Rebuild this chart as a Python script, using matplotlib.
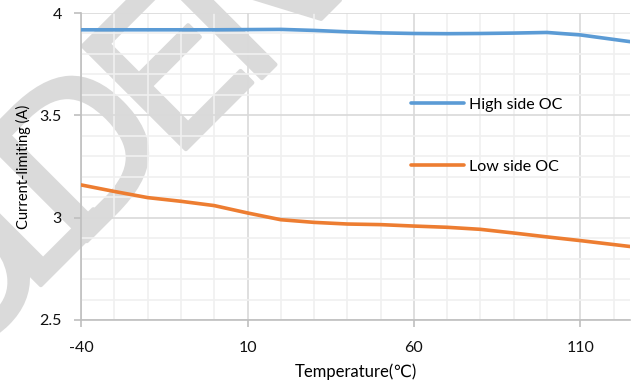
import numpy as np
import matplotlib.pyplot as plt
import matplotlib.patheffects as pe
from matplotlib.ticker import MultipleLocator

plt.rcParams['font.family'] = ['Lato', 'DejaVu Sans']
plt.rcParams['axes.unicode_minus'] = False

# Temperature sweep and measured current limit
temp = [-40, -30, -20, -10, 0, 10, 20, 30, 40, 50, 60, 70, 80, 90, 100, 110, 125]
high_side = [3.918, 3.918, 3.918, 3.918, 3.918, 3.919, 3.920, 3.915, 3.908, 3.903,
             3.900, 3.899, 3.900, 3.902, 3.905, 3.893, 3.860]
low_side = [3.160, 3.128, 3.098, 3.080, 3.059, 3.023, 2.990, 2.977, 2.969, 2.966,
            2.959, 2.953, 2.943, 2.925, 2.906, 2.888, 2.859]

x_ticks = [-40, 10, 60, 110]
y_ticks = [2.5, 3, 3.5, 4]
y_ticklabels = ['2.5', '3', '3.5', '4']

W, H = 634, 383
fig = plt.figure(figsize=(W / 100, H / 100), dpi=100)
ax = fig.add_axes([0.128, 0.1645, 0.866, 0.8015])
ax.patch.set_alpha(0)

# diagonal watermark, one letter at a time (baseline-left anchor in pixels)
wm_letters = ['O', 'L', 'D', 'E', 'N']
wm_anchor = [(-50, 377), (27, 299), (73, 255), (172, 163), (248, 92)]
for ch, (px, py) in zip(wm_letters, wm_anchor):
    fig.text(px / W, 1 - py / H, ch, rotation=45, rotation_mode='anchor',
             ha='left', va='baseline', fontsize=144, color='#dadada',
             family='DejaVu Sans', zorder=-1,
             path_effects=[pe.withStroke(linewidth=3, foreground='#dadada')])

ax.set_xlim(-40, 125)
ax.set_ylim(2.5, 4)

# grid: major lines darker, minor lines very light
ax.set_xticks(x_ticks)
ax.set_yticks(y_ticks)
ax.set_yticklabels(y_ticklabels)
ax.xaxis.set_minor_locator(MultipleLocator(10))
ax.yaxis.set_minor_locator(MultipleLocator(0.1))
ax.grid(which='major', color='#d9d9d9', linewidth=1.2, zorder=0)
ax.grid(which='minor', color='#f0f0f0', linewidth=1.2, zorder=0)
ax.set_axisbelow(True)

for s in ['top', 'right']:
    ax.spines[s].set_visible(False)
for s in ['left', 'bottom']:
    ax.spines[s].set_color('#bfbfbf')
    ax.spines[s].set_linewidth(1.2)
ax.tick_params(which='major', length=5, width=1.2, color='#bfbfbf',
               labelsize=11.5, labelcolor='#111111')
ax.tick_params(axis='y', pad=9)
ax.tick_params(axis='x', pad=10)
ax.tick_params(which='minor', length=0)

ax.plot(temp, high_side, color='#5b9bd5', linewidth=2.6, label='High side OC',
        solid_capstyle='round', zorder=3)
ax.plot(temp, low_side, color='#ed7d31', linewidth=2.6, label='Low side OC',
        solid_capstyle='round', zorder=3)

ax.set_xlabel('Temperature(℃)', fontsize=12, labelpad=6)
ax.set_ylabel('Current-limiting (A)', fontsize=10.5, labelpad=6)

leg = ax.legend(loc='upper left', bbox_to_anchor=(0.59, 0.745), frameon=False,
                fontsize=11.5, handlelength=3.3, labelspacing=3.0,
                handletextpad=0.3, borderaxespad=0)

fig.savefig('out.png', dpi=100)
